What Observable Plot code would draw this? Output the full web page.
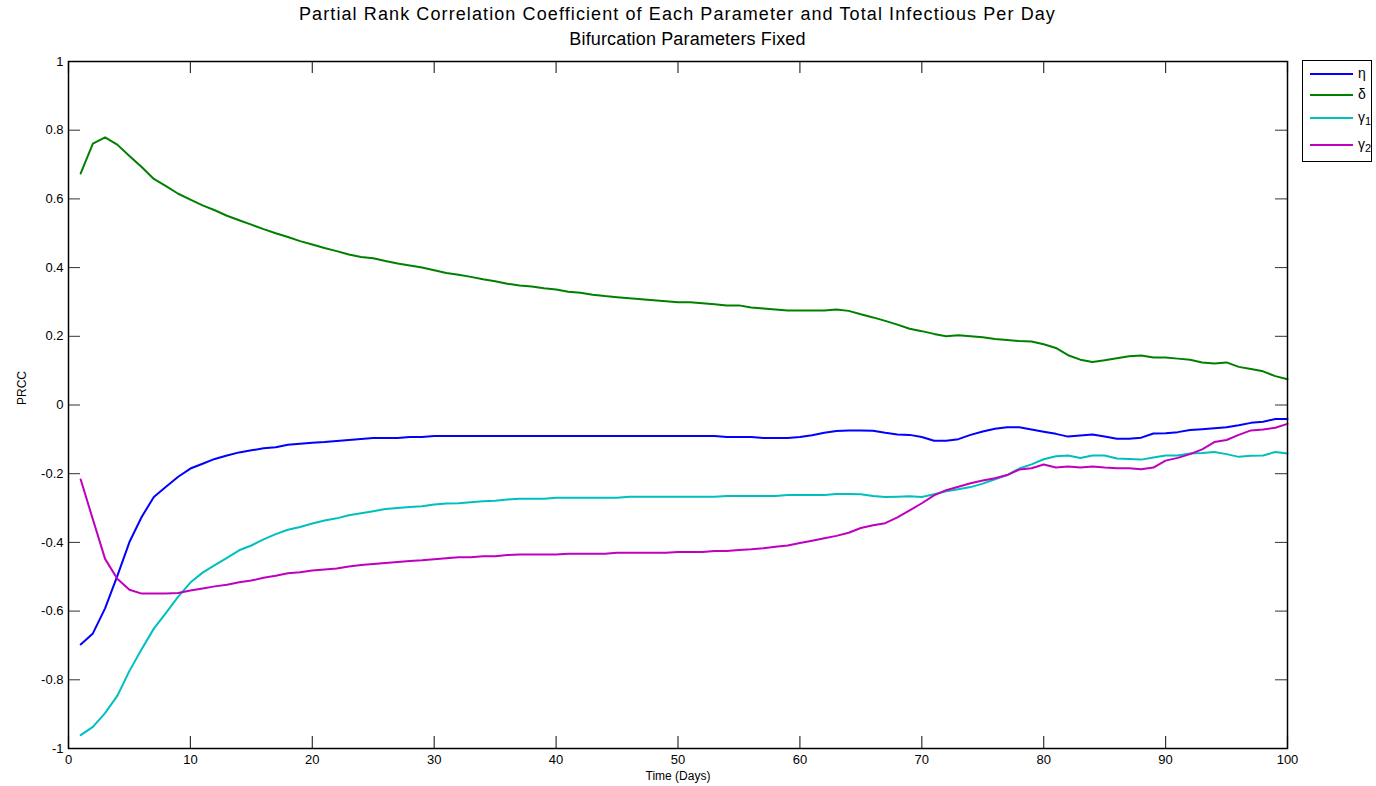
<!DOCTYPE html>
<html>
<head>
<meta charset="utf-8">
<script src="https://cdn.jsdelivr.net/npm/d3@7"></script>
<script src="https://cdn.jsdelivr.net/npm/@observablehq/plot@0.6"></script>
<style>
  html, body { margin: 0; padding: 0; background: #fff; }
  #wrap { position: relative; width: 1376px; height: 786px; font-family: "Liberation Sans", Arial, Helvetica, sans-serif; }
  #title { height: 52px; text-align: center; font-size: 18px; line-height: 25px; color: #000; padding-top: 2px; box-sizing: border-box; width: 1355px; }
  #title .l1 { letter-spacing: 1.1px; }
  #title .l2 { letter-spacing: 0.15px; margin-left: 20px; }
  #legend { position: absolute; left: 1302px; top: 60px; width: 70px; height: 102px; border: 1px solid #000; background: #fff; box-sizing: border-box; }
  .li { position: absolute; left: 0; height: 20px; width: 70px; }
  .li .sw { position: absolute; left: 7px; top: 9px; width: 43px; height: 2px; }
  .li .lb { position: absolute; left: 55px; top: 1px; font-size: 14px; line-height: 16px; }
  .li .lb sub { font-size: 11px; vertical-align: -3px; line-height: 0; }
</style>
</head>
<body>
<div id="wrap">
  <div id="title"><span class="l1">Partial Rank Correlation Coefficient of Each Parameter and Total Infectious Per Day</span><br><span class="l2">Bifurcation Parameters Fixed</span></div>
  <div id="chart"></div>
  <div id="legend"></div>
</div>
<script>
const seriesNames = ["η", "δ", "γ1", "γ2"];
const seriesLabels = ["η", "δ", "γ<sub>1</sub>", "γ<sub>2</sub>"];
const seriesColors = ["#0000FF", "#008000", "#00BFBF", "#BF00BF"];

const eta = [-0.697,-0.665,-0.592,-0.498,-0.399,-0.326,-0.268,-0.238,-0.209,-0.185,
-0.171,-0.157,-0.147,-0.138,-0.132,-0.126,-0.123,-0.116,-0.113,-0.110,
-0.108,-0.105,-0.102,-0.099,-0.096,-0.096,-0.096,-0.093,-0.093,-0.090,
-0.090,-0.090,-0.090,-0.090,-0.090,-0.090,-0.090,-0.090,-0.090,-0.090,
-0.090,-0.090,-0.090,-0.090,-0.090,-0.090,-0.090,-0.090,-0.090,-0.090,
-0.090,-0.090,-0.090,-0.093,-0.093,-0.093,-0.096,-0.096,-0.096,-0.093,
-0.088,-0.081,-0.076,-0.074,-0.074,-0.075,-0.081,-0.086,-0.087,-0.093,
-0.104,-0.104,-0.0995,-0.087,-0.077,-0.069,-0.065,-0.065,-0.0715,-0.078,
-0.084,-0.092,-0.089,-0.086,-0.092,-0.098,-0.098,-0.095,-0.083,-0.082,
-0.079,-0.073,-0.0705,-0.068,-0.065,-0.059,-0.052,-0.049,-0.041,-0.041];

const delta = [0.674,0.761,0.779,0.758,0.725,0.693,0.658,0.637,0.615,0.598,
0.581,0.567,0.551,0.538,0.525,0.512,0.500,0.489,0.477,0.467,
0.457,0.448,0.438,0.431,0.427,0.419,0.412,0.406,0.400,0.392,
0.384,0.379,0.373,0.366,0.360,0.353,0.348,0.345,0.340,0.336,
0.330,0.327,0.321,0.317,0.314,0.311,0.308,0.305,0.302,0.299,
0.299,0.296,0.293,0.290,0.290,0.284,0.281,0.278,0.275,0.275,
0.275,0.275,0.278,0.274,0.264,0.255,0.245,0.234,0.222,0.215,
0.207,0.200,0.203,0.200,0.197,0.192,0.189,0.186,0.185,0.177,
0.166,0.145,0.132,0.125,0.130,0.136,0.142,0.144,0.138,0.138,
0.135,0.132,0.124,0.121,0.124,0.111,0.105,0.098,0.084,0.075];

const gamma1 = [-0.961,-0.937,-0.897,-0.847,-0.774,-0.711,-0.651,-0.605,-0.558,-0.517,
-0.488,-0.466,-0.445,-0.423,-0.409,-0.391,-0.376,-0.363,-0.355,-0.345,
-0.336,-0.330,-0.321,-0.315,-0.309,-0.303,-0.300,-0.297,-0.295,-0.290,
-0.287,-0.286,-0.283,-0.280,-0.279,-0.275,-0.273,-0.273,-0.273,-0.270,
-0.270,-0.270,-0.270,-0.270,-0.270,-0.267,-0.267,-0.267,-0.267,-0.267,
-0.267,-0.267,-0.267,-0.265,-0.265,-0.265,-0.265,-0.265,-0.262,-0.262,
-0.262,-0.262,-0.259,-0.259,-0.260,-0.265,-0.268,-0.267,-0.266,-0.268,
-0.260,-0.251,-0.245,-0.239,-0.229,-0.216,-0.204,-0.185,-0.173,-0.158,
-0.149,-0.147,-0.154,-0.147,-0.147,-0.156,-0.157,-0.159,-0.153,-0.147,
-0.147,-0.141,-0.140,-0.137,-0.143,-0.151,-0.148,-0.147,-0.137,-0.141];

const gamma2 = [-0.217,-0.333,-0.448,-0.506,-0.538,-0.549,-0.549,-0.549,-0.547,-0.540,
-0.534,-0.528,-0.523,-0.516,-0.511,-0.503,-0.497,-0.490,-0.487,-0.482,
-0.479,-0.476,-0.470,-0.466,-0.463,-0.460,-0.457,-0.454,-0.452,-0.449,
-0.446,-0.443,-0.443,-0.440,-0.440,-0.437,-0.435,-0.435,-0.435,-0.435,
-0.433,-0.433,-0.433,-0.433,-0.430,-0.430,-0.430,-0.430,-0.430,-0.428,
-0.428,-0.428,-0.425,-0.425,-0.422,-0.420,-0.417,-0.413,-0.409,-0.402,
-0.395,-0.388,-0.381,-0.372,-0.358,-0.350,-0.344,-0.327,-0.307,-0.286,
-0.263,-0.248,-0.238,-0.228,-0.220,-0.213,-0.204,-0.188,-0.184,-0.173,
-0.182,-0.179,-0.182,-0.179,-0.182,-0.184,-0.184,-0.187,-0.182,-0.162,
-0.154,-0.143,-0.129,-0.108,-0.102,-0.087,-0.074,-0.071,-0.066,-0.055];

const xTicks = [0,10,20,30,40,50,60,70,80,90,100];
const yTicks = [-1,-0.8,-0.6,-0.4,-0.2,0,0.2,0.4,0.6,0.8,1];
const xLabel = "Time (Days)";
const yLabel = "PRCC";

const allSeries = [eta, delta, gamma1, gamma2];
const rows = [];
allSeries.forEach((vals, s) => vals.forEach((v, i) => rows.push({day: i + 1, value: v, series: seriesNames[s]})));

const W = 1376, H = 734, mL = 68, mR = 89, mT = 9, mB = 38;
const innerW = W - mL - mR, innerH = H - mT - mB;
const tickLen = 12;
const tickColor = "#333";

const chart = Plot.plot({
  width: W, height: H,
  marginLeft: mL, marginRight: mR, marginTop: mT, marginBottom: mB,
  style: {fontFamily: "'Liberation Sans', Arial, Helvetica, sans-serif", fontSize: "12px", color: "#000", background: "#fff"},
  x: {domain: [0, 100]},
  y: {domain: [-1, 1]},
  color: {domain: seriesNames, range: seriesColors},
  marks: [
    Plot.ruleX(xTicks, {x: d => d, insetTop: innerH - tickLen, stroke: tickColor, strokeWidth: 1.2}),
    Plot.ruleX(xTicks, {x: d => d, insetBottom: innerH - tickLen, stroke: tickColor, strokeWidth: 1.2}),
    Plot.ruleY(yTicks, {y: d => d, insetRight: innerW - tickLen, stroke: tickColor, strokeWidth: 1}),
    Plot.ruleY(yTicks, {y: d => d, insetLeft: innerW - tickLen, stroke: tickColor, strokeWidth: 1}),
    Plot.axisX({ticks: xTicks, tickSize: 0, tickPadding: 6, tickFormat: d => String(d), label: null, fontSize: 13}),
    Plot.axisY({ticks: yTicks, tickSize: 0, tickPadding: 5, tickFormat: d => String(d), label: null, fontSize: 13}),
    Plot.line(rows, {x: "day", y: "value", z: "series", stroke: "series", strokeWidth: 2}),
    Plot.frame({stroke: "#000", strokeWidth: 1.5}),
    Plot.text([xLabel], {frameAnchor: "bottom", lineAnchor: "middle", dy: 28, fontSize: 12, fill: "#000"}),
    Plot.text([yLabel], {frameAnchor: "left", dx: -46, rotate: -90, fontSize: 12, fill: "#000"})
  ]
});
document.getElementById("chart").appendChild(chart);

const legend = document.getElementById("legend");
const rowTops = [3, 24, 47, 74];
seriesNames.forEach((n, i) => {
  const d = document.createElement("div");
  d.className = "li";
  d.style.top = rowTops[i] + "px";
  d.innerHTML = `<div class="sw" style="background:${seriesColors[i]}"></div><div class="lb">${seriesLabels[i]}</div>`;
  legend.appendChild(d);
});
</script>
</body>
</html>
